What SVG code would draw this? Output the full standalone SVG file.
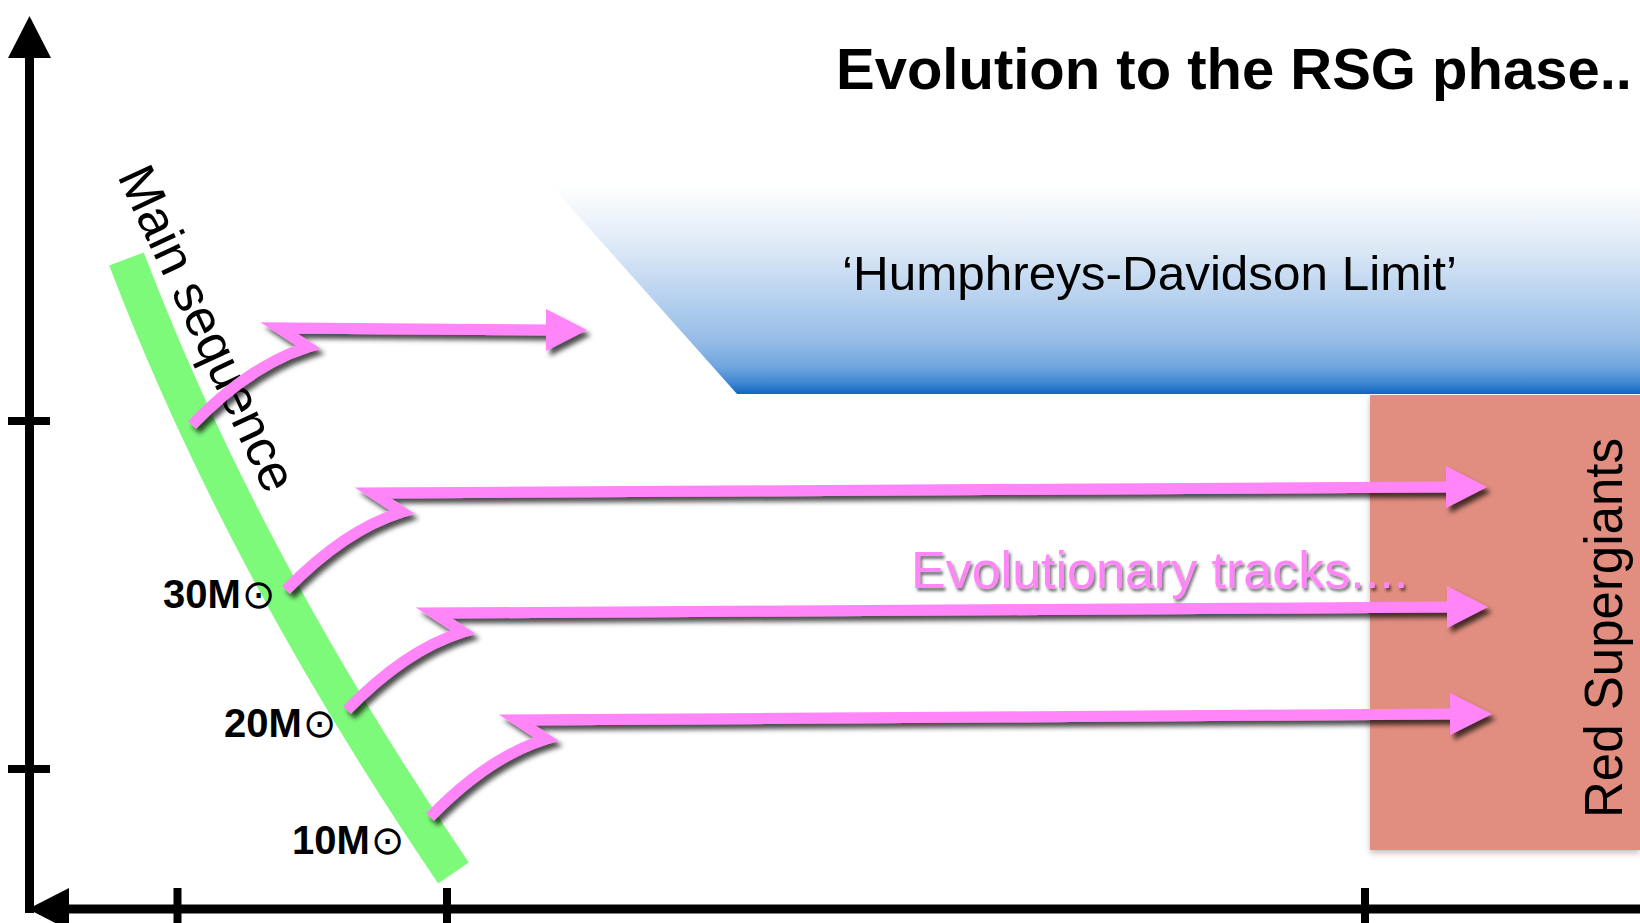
<svg xmlns="http://www.w3.org/2000/svg" width="1640" height="923" viewBox="0 0 1640 923">
<defs>
  <linearGradient id="hdGrad" gradientUnits="userSpaceOnUse" x1="0" y1="186" x2="0" y2="394">
    <stop offset="0" stop-color="#FFFFFF"/>
    <stop offset="0.3" stop-color="#DCE8F6"/>
    <stop offset="0.55" stop-color="#B5D0EE"/>
    <stop offset="0.75" stop-color="#94BCE6"/>
    <stop offset="0.87" stop-color="#6FA5DE"/>
    <stop offset="0.95" stop-color="#3D85D2"/>
    <stop offset="1" stop-color="#0F64C4"/>
  </linearGradient>
  <filter id="shadow" x="-10%" y="-30%" width="130%" height="180%">
    <feDropShadow dx="4" dy="5" stdDeviation="2.5" flood-color="#000000" flood-opacity="0.7"/>
  </filter>
  <filter id="boxShadow" x="-5%" y="-5%" width="110%" height="110%">
    <feDropShadow dx="0" dy="3" stdDeviation="3" flood-color="#000000" flood-opacity="0.25"/>
  </filter>
  <filter id="textShadow" x="-5%" y="-20%" width="110%" height="150%">
    <feDropShadow dx="2" dy="3" stdDeviation="1.5" flood-color="#000000" flood-opacity="0.55"/>
  </filter>
</defs>
<style>
  .track { fill: none; stroke: #FF85F8; stroke-width: 11; stroke-linejoin: miter; stroke-miterlimit: 8; stroke-linecap: butt; }
  .head { fill: #FF85F8; }
  .axis { stroke: #000000; stroke-width: 9; fill: none; }
  .tick { stroke: #000000; stroke-width: 8; fill: none; }
  .mass { font-family: "Liberation Sans", Arial, sans-serif; font-weight: bold; font-size: 40px; fill: #000000; }
  .sun { font-family: "DejaVu Sans", sans-serif; font-weight: normal; font-size: 40px; }
</style>

<g id="hd-limit">
  <polygon points="549,183 1640,183 1640,394 737,394" fill="url(#hdGrad)"/>
  <text x="842" y="290" font-family="Liberation Sans, Arial, sans-serif" font-size="48" fill="#000000" textLength="615" lengthAdjust="spacingAndGlyphs">‘Humphreys-Davidson Limit’</text>
</g>

<g id="rsg-region">
  <rect x="1370" y="395" width="270" height="455" fill="#E18E80" filter="url(#boxShadow)"/>
  <text transform="translate(1622,818) rotate(-90)" font-family="Liberation Sans, Arial, sans-serif" font-size="54" fill="#000000" textLength="380" lengthAdjust="spacingAndGlyphs">Red Supergiants</text>
</g>

<g id="main-sequence">
  <path d="M126.5,259 Q241.3,561 453.5,873" fill="none" stroke="#7EFA7B" stroke-width="37" stroke-linecap="butt"/>
  <text transform="translate(117,176) rotate(65)" font-family="Liberation Sans, Arial, sans-serif" font-size="52" fill="#000000">Main sequence</text>
</g>

<g id="mass-labels">
  <text class="mass" x="163" y="608">30M<tspan class="sun" dx="1">⊙</tspan></text>
  <text class="mass" x="224" y="737">20M<tspan class="sun" dx="1">⊙</tspan></text>
  <text class="mass" x="292" y="854">10M<tspan class="sun" dx="1">⊙</tspan></text>
</g>

<g id="connectors">
  <g id="track-1" filter="url(#shadow)">
    <path class="track" d="M192,425 Q250,365 308,347 L279,328 L548,330"/>
    <polygon class="head" points="546,309 587,330 546,351"/>
  </g>
  <g id="track-30" filter="url(#shadow)">
    <path class="track" d="M286,590 Q344,530 402,512 L373,493 L1448,487"/>
    <polygon class="head" points="1446,466 1487,487 1446,508"/>
  </g>
  <g id="track-20" filter="url(#shadow)">
    <path class="track" d="M347,710 Q405,650 463,632 L434,613 L1449,607"/>
    <polygon class="head" points="1447,586 1488,607 1447,628"/>
  </g>
  <g id="track-10" filter="url(#shadow)">
    <path class="track" d="M430,817 Q488,757 546,739 L517,720 L1452,714"/>
    <polygon class="head" points="1450,693 1492,714 1450,735"/>
  </g>
</g>

<g id="tracks-label">
  <text x="911" y="588" font-family="Liberation Sans, Arial, sans-serif" font-size="52" fill="#FF85F8" filter="url(#textShadow)">Evolutionary tracks....</text>
</g>

<g id="title">
  <text x="836" y="89" font-family="Liberation Sans, Arial, sans-serif" font-weight="bold" font-size="58" fill="#000000">Evolution to the RSG phase..</text>
</g>

<g id="axes">
  <line class="axis" x1="29.5" y1="56" x2="29.5" y2="913"/>
  <polygon points="29.5,16 8,58 51,58" fill="#000000"/>
  <line class="tick" x1="8" y1="421" x2="50" y2="421"/>
  <line class="tick" x1="8" y1="769" x2="50" y2="769"/>
  <line class="axis" x1="67" y1="909" x2="1640" y2="909"/>
  <polygon points="28,909 69,888 69,930" fill="#000000"/>
  <line class="tick" x1="177.5" y1="888" x2="177.5" y2="923"/>
  <line class="tick" x1="447" y1="888" x2="447" y2="923"/>
  <line class="tick" x1="1365" y1="888" x2="1365" y2="923"/>
</g>
</svg>
